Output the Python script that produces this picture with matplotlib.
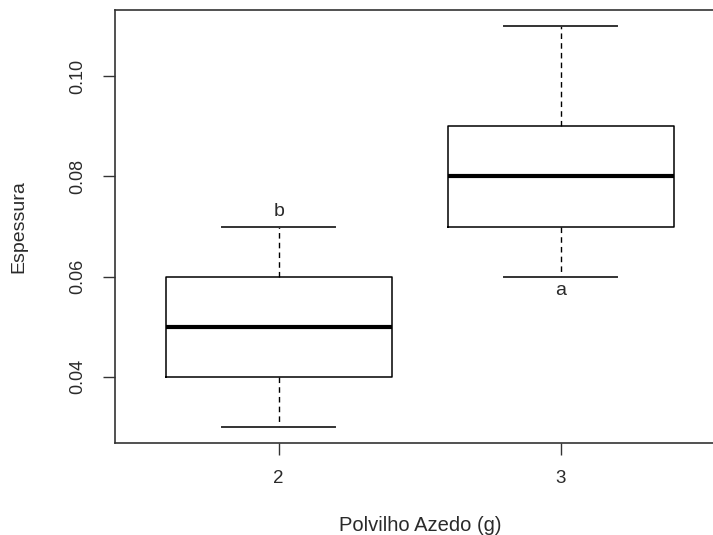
import matplotlib
matplotlib.use("Agg")
import matplotlib.pyplot as plt

plt.rcParams['font.family'] = ['Liberation Sans', 'DejaVu Sans']

categories = ["2", "3"]
whislo = [0.03, 0.06]
q1 = [0.04, 0.07]
med = [0.05, 0.08]
q3 = [0.06, 0.09]
whishi = [0.07, 0.11]
letters = ["b", "a"]
yticks = [0.04, 0.06, 0.08, 0.10]
ytick_labels = ["0.04", "0.06", "0.08", "0.10"]

stats = [dict(label=c, whislo=lo, q1=a, med=m, q3=b, whishi=hi, fliers=[])
         for c, lo, a, m, b, hi in zip(categories, whislo, q1, med, q3, whishi)]

fig = plt.figure(figsize=(7.13, 5.35), dpi=100)
ax = fig.add_axes([0.1613, 0.172, 0.855, 0.809])

positions = [1, 2]
ax.bxp(stats, positions=positions, widths=0.8, showfliers=False,
       boxprops=dict(color='black', linewidth=1.1),
       whiskerprops=dict(color='black', linewidth=1.0, linestyle=(0, (4, 3))),
       capprops=dict(color='#333333', linewidth=1.4),
       medianprops=dict(color='black', linewidth=3.0),
       capwidths=0.4)

ax.set_xlim(0.42, 2.58)
ax.set_ylim(0.0268, 0.1132)
ax.set_xticks(positions)
ax.set_xticklabels(categories, fontsize=13.5, color='#2a2a2a')
ax.set_yticks(yticks)
ax.set_yticklabels(ytick_labels, fontsize=13, rotation=90, va='center', color='#2a2a2a')
ax.tick_params(axis='both', direction='out', length=8.5, width=1.0, color='#333333')
ax.tick_params(axis='y', pad=12)
ax.tick_params(axis='x', pad=11)

for s in ax.spines.values():
    s.set_color('#333333')
    s.set_linewidth(1.2)

# significance letters (above top whisker of group 1, below bottom whisker of group 2)
ax.text(positions[0], whishi[0] + 0.0021, letters[0], ha='center', va='baseline', fontsize=14, color='#2a2a2a')
ax.text(positions[1], whislo[1] - 0.0036, letters[1], ha='center', va='baseline', fontsize=14, color='#2a2a2a')

ax.set_xlabel("Polvilho Azedo (g)", fontsize=14.5, labelpad=21, color='#2a2a2a')
ax.set_ylabel("Espessura", fontsize=14, labelpad=30, color='#2a2a2a')

fig.savefig("out.png", dpi=100)
